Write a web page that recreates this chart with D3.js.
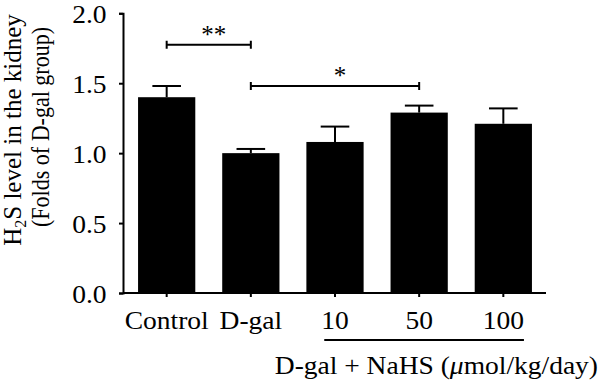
<!DOCTYPE html>
<html>
<head>
<meta charset="utf-8">
<script src="https://cdn.jsdelivr.net/npm/d3@7"></script>
<style>
	body { margin: 0; background: #fff; }
	svg text { font-family: "Liberation Serif", "Times New Roman", Times, "DejaVu Serif", serif !important; fill: #000; }
</style>
</head>
<body>
<svg id="chart"></svg>
<script>
/* Data */
const groups = ['Control', 'D-gal', '10', '50', '100'];
const means = [1.40, 1.00, 1.08, 1.29, 1.21];
const errors = [0.08, 0.03, 0.11, 0.05, 0.11];
const yTicks = [0, 0.5, 1.0, 1.5, 2.0];
// significance brackets
const sigFrom = ['Control', 'D-gal'];
const sigTo = ['D-gal', '50'];
const sigLevel = [1.775, 1.48];
const sigLabel = ['**', '*'];
const nahsGroups = ['10', '50', '100'];

/* Layout */
const width = 600, height = 383;
const margin = {left: 123, right: 54, top: 13, bottom: 90};
const fontSize = 25;
const stretch = 'scale(1.1,1)'; // text in the figure is a bit wide
const lineW = 2;

let svg = d3.select('#chart')
	.attr('width', width)
	.attr('height', height);

let x = d3.scaleBand()
	.domain(groups)
	.range([margin.left + 1, width - margin.right])
	.paddingInner(0.32)
	.paddingOuter(0.167);

let y = d3.scaleLinear()
	.domain([0, 2])
	.range([height - margin.bottom, margin.top + 0.3]);

const cx = (g) => x(g) + x.bandwidth() / 2;

// bars
svg.append('g')
	.selectAll('rect')
	.data(groups)
	.enter()
	.append('rect')
		.attr('x', (d) => x(d))
		.attr('y', (d, i) => y(means[i]))
		.attr('width', x.bandwidth())
		.attr('height', (d, i) => y(0) - y(means[i]))
		.style('fill', '#000');

// error bars (upper half only)
let err = svg.append('g')
	.style('stroke', '#000')
	.style('stroke-width', lineW);

err.selectAll('line.stem')
	.data(groups)
	.enter()
	.append('line')
		.attr('class', 'stem')
		.attr('x1', cx)
		.attr('x2', cx)
		.attr('y1', (d, i) => y(means[i]))
		.attr('y2', (d, i) => y(means[i] + errors[i]));

err.selectAll('line.cap')
	.data(groups)
	.enter()
	.append('line')
		.attr('class', 'cap')
		.attr('x1', (d) => cx(d) - x.bandwidth() / 4)
		.attr('x2', (d) => cx(d) + x.bandwidth() / 4)
		.attr('y1', (d, i) => y(means[i] + errors[i]))
		.attr('y2', (d, i) => y(means[i] + errors[i]));

// y axis
let yAxis = svg.append('g')
	.attr('transform', 'translate(' + margin.left + ',0)')
	.call(d3.axisLeft(y).tickValues(yTicks).tickFormat(d3.format('.1f')).tickSize(4).tickPadding(11));

// x axis
let xAxis = svg.append('g')
	.attr('transform', 'translate(0,' + y(0) + ')')
	.call(d3.axisBottom(x).tickSize(4).tickPadding(10));

xAxis.select('.domain').attr('d', 'M' + margin.left + ',0H' + (width - margin.right));

[yAxis, xAxis].forEach((a) => {
	a.attr('font-family', null).attr('font-size', null);
	a.selectAll('path, line').style('stroke', '#000').style('stroke-width', lineW);
	a.selectAll('text')
		.attr('transform', stretch)
		.style('font-size', fontSize + 'px')
		.style('fill', '#000');
});
yAxis.selectAll('text').attr('dy', '0.36em');
xAxis.selectAll('text').attr('dy', '0.9em');

// line under the NaHS doses
let doseBoxes = xAxis.selectAll('.tick')
	.filter((d) => nahsGroups.includes(d))
	.select('text')
	.nodes()
	.map((n) => {
		let b = n.getBBox();
		return {left: cx(n.__data__) + 1.1 * b.x, right: cx(n.__data__) + 1.1 * (b.x + b.width)};
	});

svg.append('line')
	.attr('x1', d3.min(doseBoxes, (b) => b.left) + 3)
	.attr('x2', d3.max(doseBoxes, (b) => b.right))
	.attr('y1', y(0) + 47)
	.attr('y2', y(0) + 47)
	.style('stroke', '#000')
	.style('stroke-width', lineW);

let nahs = svg.append('g')
	.attr('transform', 'translate(' + (width - 2) + ',' + (y(0) + 81) + ') ' + stretch)
	.append('text')
		.attr('text-anchor', 'end')
		.style('font-size', fontSize + 'px');
nahs.append('tspan').text('D-gal + NaHS (');
nahs.append('tspan').style('font-style', 'italic').text('\u03bc');
nahs.append('tspan').text('mol/kg/day)');

// y label
let yLab = svg.append('text')
	.attr('transform', 'translate(21,130) rotate(-90)')
	.attr('text-anchor', 'middle')
	.style('font-size', fontSize + 'px');
yLab.append('tspan').text('H');
yLab.append('tspan').attr('dy', 5).style('font-size', '16px').text('2');
yLab.append('tspan').attr('dy', -5).text('S level in the kidney');

svg.append('text')
	.attr('transform', 'translate(49,127) rotate(-90)')
	.attr('text-anchor', 'middle')
	.attr('textLength', 200)
	.attr('lengthAdjust', 'spacingAndGlyphs')
	.style('font-size', fontSize + 'px')
	.text('(Folds of D-gal group)');

// significance brackets
let sig = svg.append('g');
sigFrom.forEach((f, i) => {
	let x1 = cx(f), x2 = cx(sigTo[i]), yy = y(sigLevel[i]);
	sig.append('path')
		.attr('d', 'M' + x1 + ',' + (yy - 4) + 'V' + (yy + 4) + 'M' + x1 + ',' + yy + 'H' + x2 + 'M' + x2 + ',' + (yy - 4) + 'V' + (yy + 4))
		.style('fill', 'none')
		.style('stroke', '#000')
		.style('stroke-width', lineW);
	sig.append('text')
		.attr('x', (x1 + x2) / 2 + 5)
		.attr('y', yy - 2)
		.attr('text-anchor', 'middle')
		.style('font-size', fontSize + 'px')
		.text(sigLabel[i]);
});
</script>
</body>
</html>
